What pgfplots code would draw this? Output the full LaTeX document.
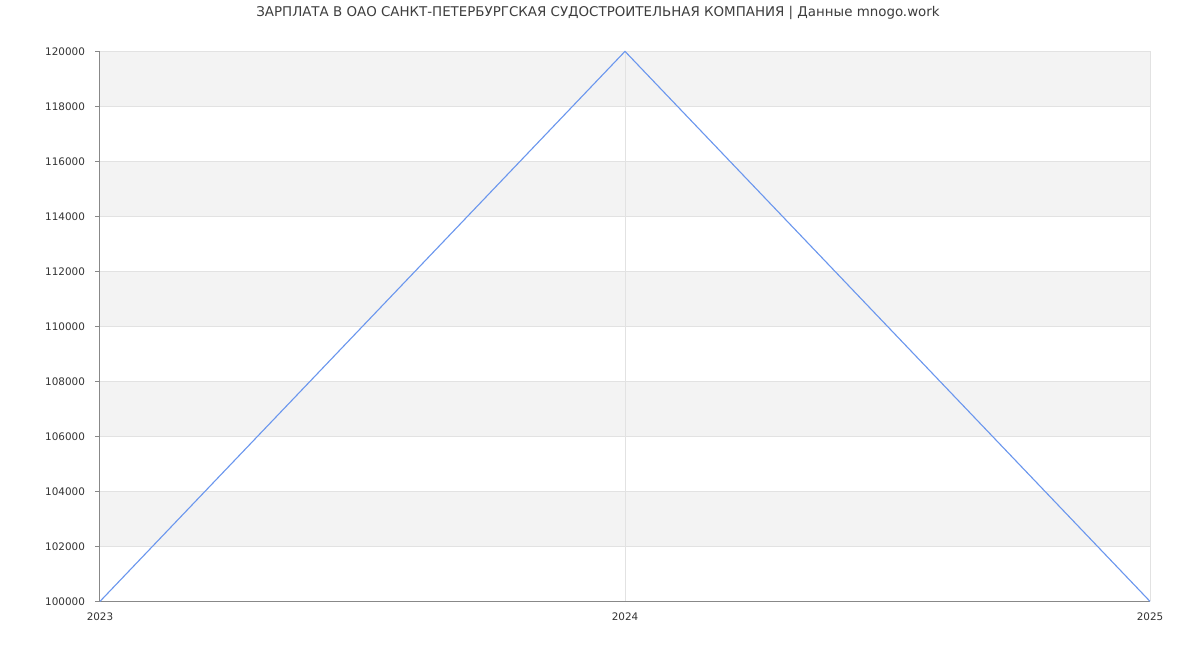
\documentclass[border=0pt]{standalone}
\usepackage{pgfplots}
\pgfplotsset{compat=1.18}
\usepackage{fontspec}
\setmainfont{DejaVu Sans}
\definecolor{band}{HTML}{F3F3F3}
\definecolor{gridc}{HTML}{E2E2E2}
\definecolor{axisc}{HTML}{888888}
\definecolor{linec}{HTML}{6A96EE}
\definecolor{txt}{HTML}{333333}
\begin{document}
\begin{tikzpicture}[x=1pt,y=1pt]
\fill[white] (0,0) rectangle (600,325);
\node[text=txt!95!white,font=\fontsize{6.7}{8}\selectfont] at (299,319) {ЗАРПЛАТА В ОАО САНКТ-ПЕТЕРБУРГСКАЯ СУДОСТРОИТЕЛЬНАЯ КОМПАНИЯ | Данные mnogo.work};
\begin{axis}[
  at={(50pt,25pt)}, anchor=south west,
  scale only axis, width=525pt, height=275pt,
  xmin=2023, xmax=2025, ymin=100000, ymax=120000,
  xtick={2023,2024,2025}, ytick={100000,102000,...,120000},
  xticklabels={2023,2024,2025},
  scaled y ticks=false,
  /pgf/number format/fixed,
  /pgf/number format/1000 sep={},
  /pgf/number format/assume math mode=true,
  ticklabel style={font=\fontsize{5.2}{6}\selectfont, text=txt},
  axis line style={draw=none},
  tick style={draw=axisc, line width=0.5pt},
  xtick style={draw=none},
  ytick align=outside, tick pos=left,
  major tick length=2.5pt,
  yticklabel style={xshift=-1.5pt},
  xticklabel style={yshift=-2pt},
  clip=false,
]
\foreach \a/\b in {102000/104000,106000/108000,110000/112000,114000/116000,118000/120000}{
  \edef\tmp{\noexpand\fill[band] (axis cs:2023,\a) rectangle (axis cs:2025,\b);}
  \tmp
}
\foreach \a in {102000,104000,106000,108000,110000,112000,114000,116000,118000,120000}{
  \edef\tmp{\noexpand\draw[gridc,line width=0.5pt] (axis cs:2023,\a) -- (axis cs:2025,\a);}
  \tmp
}
\draw[gridc,line width=0.5pt] (axis cs:2024,100000) -- (axis cs:2024,120000);
\draw[gridc,line width=0.5pt] (axis cs:2025,100000) -- (axis cs:2025,120000);
\draw[axisc,line width=0.5pt] (axis cs:2023,120000) -- (axis cs:2023,100000) -- (axis cs:2025,100000);
\addplot[linec, line width=0.55pt, no markers] coordinates {(2023,100000) (2024,120000) (2025,100000)};
\end{axis}
\end{tikzpicture}
\end{document}
